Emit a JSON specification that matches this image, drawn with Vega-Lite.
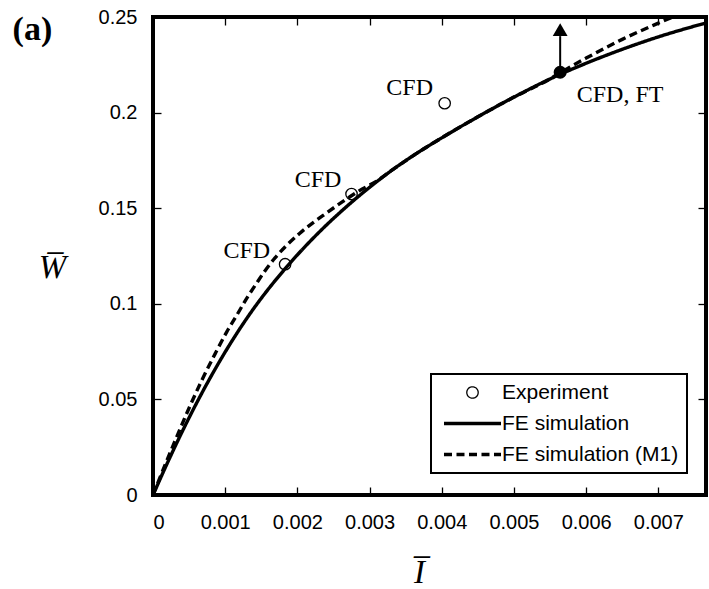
{
  "$schema": "https://vega.github.io/schema/vega-lite/v6.json",
  "width": 553,
  "height": 478,
  "autosize": {"type": "none"},
  "padding": {"left": 153, "top": 17, "right": 3, "bottom": 94},
  "background": "white",
  "config": {
    "view": {"stroke": "black", "strokeWidth": 4},
    "legend": {"strokeWidth": 2},
    "axis": {"grid": false, "domain": false, "ticks": true, "tickColor": "black", "tickWidth": 1.3, "tickSize": -8, "labelFont": "Liberation Sans", "labelFontSize": 20, "labelColor": "black", "titleFont": "Liberation Serif", "titleFontSize": 33, "titleFontStyle": "italic", "titleFontWeight": "normal", "titleColor": "black"}
  },
  "datasets": {
    "curves": [
      {"series": "FE simulation", "I": 0, "W": 0},
      {"series": "FE simulation", "I": 0.0002, "W": 0.0168},
      {"series": "FE simulation", "I": 0.0004, "W": 0.0328},
      {"series": "FE simulation", "I": 0.0006, "W": 0.0478},
      {"series": "FE simulation", "I": 0.0008, "W": 0.0618},
      {"series": "FE simulation", "I": 0.001, "W": 0.0748},
      {"series": "FE simulation", "I": 0.0012, "W": 0.0868},
      {"series": "FE simulation", "I": 0.0014, "W": 0.0978},
      {"series": "FE simulation", "I": 0.0016, "W": 0.1078},
      {"series": "FE simulation", "I": 0.0018, "W": 0.117},
      {"series": "FE simulation", "I": 0.002, "W": 0.1256},
      {"series": "FE simulation", "I": 0.0022, "W": 0.1336},
      {"series": "FE simulation", "I": 0.0024, "W": 0.1411},
      {"series": "FE simulation", "I": 0.0026, "W": 0.1481},
      {"series": "FE simulation", "I": 0.0028, "W": 0.1547},
      {"series": "FE simulation", "I": 0.003, "W": 0.1609},
      {"series": "FE simulation", "I": 0.0033, "W": 0.1696},
      {"series": "FE simulation", "I": 0.0036, "W": 0.1774},
      {"series": "FE simulation", "I": 0.004, "W": 0.1868},
      {"series": "FE simulation", "I": 0.0045, "W": 0.1978},
      {"series": "FE simulation", "I": 0.005, "W": 0.2081},
      {"series": "FE simulation", "I": 0.0055, "W": 0.2176},
      {"series": "FE simulation", "I": 0.006, "W": 0.2258},
      {"series": "FE simulation", "I": 0.0065, "W": 0.2331},
      {"series": "FE simulation", "I": 0.007, "W": 0.2396},
      {"series": "FE simulation", "I": 0.00766, "W": 0.2469},
      {"series": "FE simulation (M1)", "I": 0, "W": 0},
      {"series": "FE simulation (M1)", "I": 0.00017, "W": 0.016},
      {"series": "FE simulation (M1)", "I": 0.00033, "W": 0.0305},
      {"series": "FE simulation (M1)", "I": 0.0005, "W": 0.0455},
      {"series": "FE simulation (M1)", "I": 0.00067, "W": 0.0595},
      {"series": "FE simulation (M1)", "I": 0.00086, "W": 0.0738},
      {"series": "FE simulation (M1)", "I": 0.00102, "W": 0.0852},
      {"series": "FE simulation (M1)", "I": 0.00116, "W": 0.094},
      {"series": "FE simulation (M1)", "I": 0.0013, "W": 0.103},
      {"series": "FE simulation (M1)", "I": 0.00143, "W": 0.1105},
      {"series": "FE simulation (M1)", "I": 0.00155, "W": 0.1172},
      {"series": "FE simulation (M1)", "I": 0.00169, "W": 0.124},
      {"series": "FE simulation (M1)", "I": 0.00185, "W": 0.1305},
      {"series": "FE simulation (M1)", "I": 0.00203, "W": 0.1368},
      {"series": "FE simulation (M1)", "I": 0.00221, "W": 0.1422},
      {"series": "FE simulation (M1)", "I": 0.0024, "W": 0.1474},
      {"series": "FE simulation (M1)", "I": 0.00256, "W": 0.1517},
      {"series": "FE simulation (M1)", "I": 0.00272, "W": 0.1558},
      {"series": "FE simulation (M1)", "I": 0.00286, "W": 0.1592},
      {"series": "FE simulation (M1)", "I": 0.0031, "W": 0.1642},
      {"series": "FE simulation (M1)", "I": 0.0033, "W": 0.1696},
      {"series": "FE simulation (M1)", "I": 0.0036, "W": 0.1774},
      {"series": "FE simulation (M1)", "I": 0.004, "W": 0.1868},
      {"series": "FE simulation (M1)", "I": 0.0045, "W": 0.1978},
      {"series": "FE simulation (M1)", "I": 0.005, "W": 0.2081},
      {"series": "FE simulation (M1)", "I": 0.0055, "W": 0.2176},
      {"series": "FE simulation (M1)", "I": 0.0057, "W": 0.2222},
      {"series": "FE simulation (M1)", "I": 0.006, "W": 0.2285},
      {"series": "FE simulation (M1)", "I": 0.0065, "W": 0.2383},
      {"series": "FE simulation (M1)", "I": 0.007, "W": 0.2468},
      {"series": "FE simulation (M1)", "I": 0.0075, "W": 0.2548}
    ],
    "experiment": [
      {"series": "Experiment", "I": 0.00183, "W": 0.1207},
      {"series": "Experiment", "I": 0.00275, "W": 0.1574},
      {"series": "Experiment", "I": 0.00404, "W": 0.2049}
    ],
    "cfdft": [
      {"I": 0.00564, "W": 0.2211, "Wtop": 0.24, "Whead": 0.2434}
    ],
    "labels": [
      {"I": 0.0013, "W": 0.1238, "text": "CFD"},
      {"I": 0.002286, "W": 0.1612, "text": "CFD"},
      {"I": 0.003555, "W": 0.2092, "text": "CFD"},
      {"I": 0.00647, "W": 0.2057, "text": "CFD, FT"}
    ],
    "panel": [
      {"I": -0.00167, "W": 0.238, "text": "(a)"}
    ]
  },
  "layer": [
    {
      "data": {"name": "curves"},
      "mark": {"type": "line", "color": "black", "clip": true, "interpolate": "monotone", "strokeCap": "butt"},
      "encoding": {
        "x": {"field": "I", "type": "quantitative", "scale": {"domain": [0, 0.00766], "nice": false, "zero": false},
          "axis": {"orient": "bottom", "values": [0, 0.001, 0.002, 0.003, 0.004, 0.005, 0.006, 0.007], "format": "~g", "labelPadding": 25, "title": "I\u0305", "titleAngle": 0, "titleX": 266, "titleY": 87, "titleAlign": "center", "titleBaseline": "alphabetic"}},
        "y": {"field": "W", "type": "quantitative", "scale": {"domain": [0, 0.25], "nice": false, "zero": false},
          "axis": {"orient": "left", "values": [0, 0.05, 0.1, 0.15, 0.2, 0.25], "format": "~g", "labelPadding": 24, "title": "W\u0305", "titleAngle": 0, "titleX": -101, "titleY": 260, "titleAlign": "center", "titleBaseline": "alphabetic"}},
        "strokeDash": {"field": "series", "type": "nominal",
          "scale": {"domain": ["Experiment", "FE simulation", "FE simulation (M1)"], "range": [[1, 0], [1, 0], [8, 4.5]]},
          "legend": {"orient": "none", "legendX": 278, "legendY": 357, "title": null, "labelFont": "Liberation Sans", "labelFontSize": 21, "labelColor": "black", "labelLimit": 400, "strokeColor": "black", "fillColor": "white", "padding": 8, "symbolSize": 130, "symbolOffset": 23, "labelOffset": 19, "rowPadding": 9, "symbolFillColor": "transparent", "symbolStrokeColor": "black"}},
        "strokeWidth": {"field": "series", "type": "ordinal",
          "scale": {"type": "ordinal", "domain": ["Experiment", "FE simulation", "FE simulation (M1)"], "range": [1.3, 3.4, 3.4]},
          "legend": {"orient": "none", "legendX": 278, "legendY": 357, "title": null, "labelFont": "Liberation Sans", "labelFontSize": 21, "labelColor": "black", "labelLimit": 400, "strokeColor": "black", "fillColor": "white", "padding": 8, "symbolSize": 130, "symbolOffset": 23, "labelOffset": 19, "rowPadding": 9, "symbolFillColor": "transparent", "symbolStrokeColor": "black"}}
      }
    },
    {
      "data": {"name": "experiment"},
      "mark": {"type": "point", "filled": false, "size": 130, "color": "black", "opacity": 1},
      "encoding": {
        "x": {"field": "I", "type": "quantitative", "axis": {"orient": "top", "values": [0, 0.001, 0.002, 0.003, 0.004, 0.005, 0.006, 0.007], "labels": false, "title": null}},
        "y": {"field": "W", "type": "quantitative", "axis": {"orient": "right", "values": [0, 0.05, 0.1, 0.15, 0.2, 0.25], "labels": false, "title": null}},
        "shape": {"field": "series", "type": "nominal",
          "scale": {"domain": ["Experiment", "FE simulation", "FE simulation (M1)"], "range": ["circle", "M-5,0H5", "M-5,0H5"]},
          "legend": {"orient": "none", "legendX": 278, "legendY": 357, "title": null, "labelFont": "Liberation Sans", "labelFontSize": 21, "labelColor": "black", "labelLimit": 400, "strokeColor": "black", "fillColor": "white", "padding": 8, "symbolSize": 130, "symbolOffset": 23, "labelOffset": 19, "rowPadding": 9, "symbolFillColor": "transparent", "symbolStrokeColor": "black"}},
        "strokeWidth": {"field": "series", "type": "ordinal",
          "scale": {"type": "ordinal", "domain": ["Experiment", "FE simulation", "FE simulation (M1)"], "range": [1.3, 3.4, 3.4]},
          "legend": {"orient": "none", "legendX": 278, "legendY": 357, "title": null, "labelFont": "Liberation Sans", "labelFontSize": 21, "labelColor": "black", "labelLimit": 400, "strokeColor": "black", "fillColor": "white", "padding": 8, "symbolSize": 130, "symbolOffset": 23, "labelOffset": 19, "rowPadding": 9, "symbolFillColor": "transparent", "symbolStrokeColor": "black"}}
      }
    },
    {
      "data": {"name": "cfdft"},
      "mark": {"type": "rule", "strokeWidth": 2, "color": "black"},
      "encoding": {
        "x": {"field": "I", "type": "quantitative", "axis": null},
        "y": {"field": "W", "type": "quantitative", "axis": null},
        "y2": {"field": "Wtop"}
      }
    },
    {
      "data": {"name": "cfdft"},
      "mark": {"type": "point", "shape": "triangle-up", "filled": true, "size": 220, "color": "black", "opacity": 1},
      "encoding": {
        "x": {"field": "I", "type": "quantitative", "axis": null},
        "y": {"field": "Whead", "type": "quantitative", "axis": null}
      }
    },
    {
      "data": {"name": "cfdft"},
      "mark": {"type": "point", "shape": "circle", "filled": true, "size": 170, "color": "black", "opacity": 1},
      "encoding": {
        "x": {"field": "I", "type": "quantitative", "axis": null},
        "y": {"field": "W", "type": "quantitative", "axis": null}
      }
    },
    {
      "data": {"name": "labels"},
      "mark": {"type": "text", "font": "Liberation Serif", "fontSize": 24, "color": "black", "align": "center", "baseline": "alphabetic"},
      "encoding": {
        "x": {"field": "I", "type": "quantitative", "axis": null},
        "y": {"field": "W", "type": "quantitative", "axis": null},
        "text": {"field": "text"}
      }
    },
    {
      "data": {"name": "panel"},
      "mark": {"type": "text", "font": "Liberation Serif", "fontSize": 34, "fontWeight": "bold", "color": "black", "align": "center", "baseline": "alphabetic"},
      "encoding": {
        "x": {"field": "I", "type": "quantitative", "axis": null},
        "y": {"field": "W", "type": "quantitative", "axis": null},
        "text": {"field": "text"}
      }
    }
  ],
  "resolve": {"axis": {"x": "independent", "y": "independent"}}
}
